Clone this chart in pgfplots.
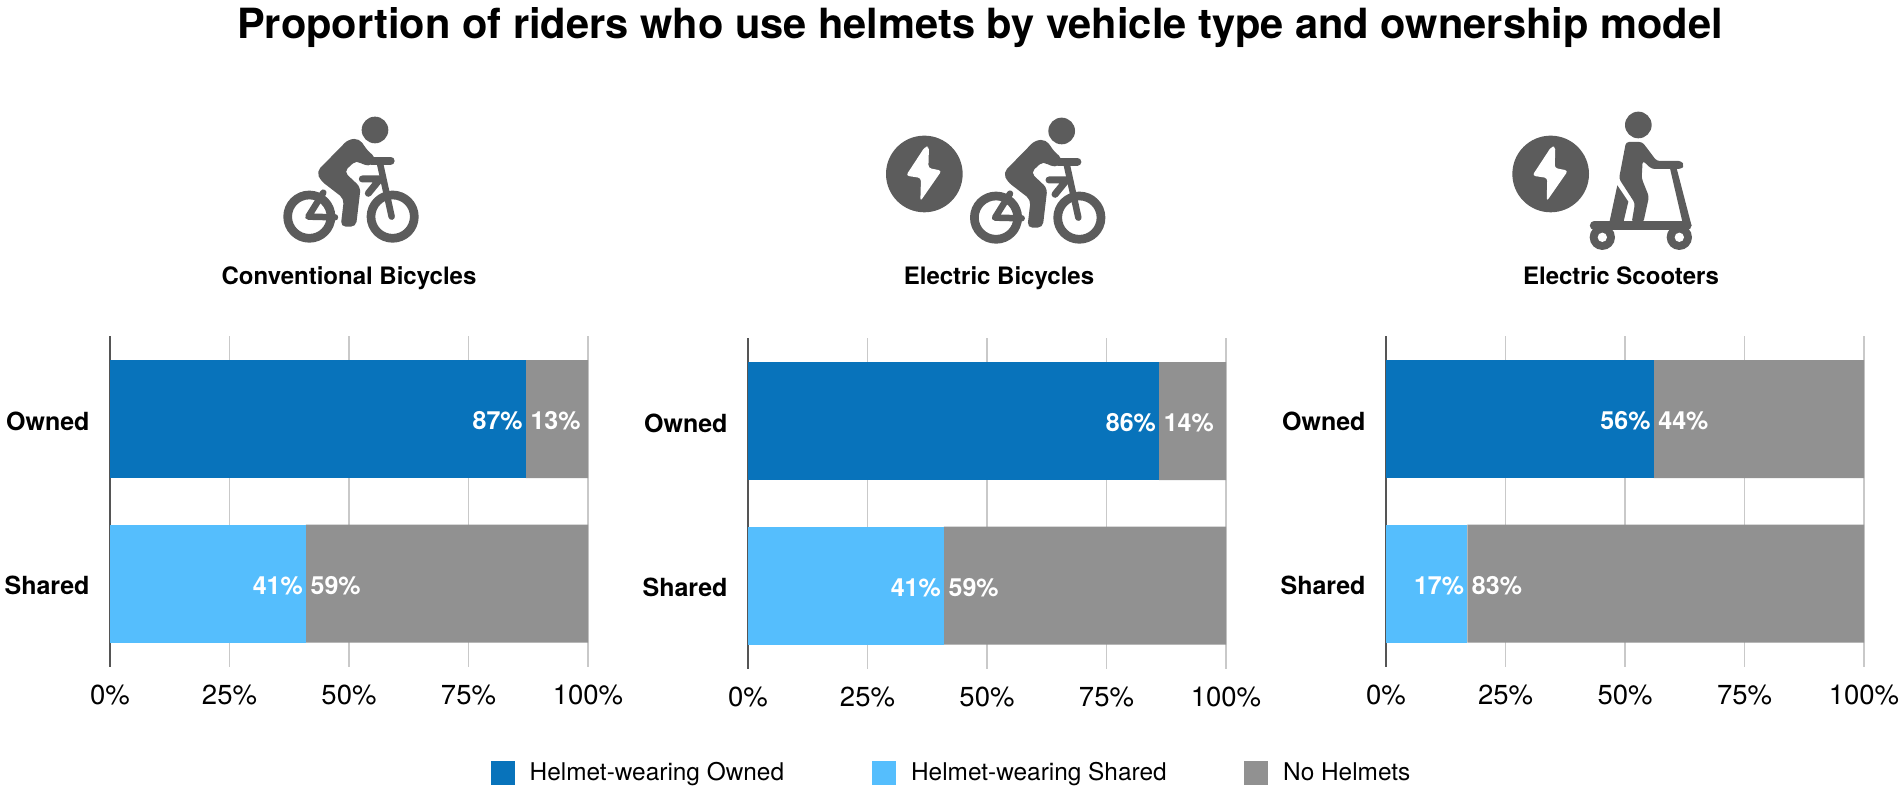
\documentclass[border=0pt]{standalone}
\usepackage{fontspec}
\setmainfont{TeX Gyre Heros}
\usepackage{pgfplots}
\pgfplotsset{compat=1.18}
\definecolor{owned}{HTML}{0873BB}
\definecolor{shared}{HTML}{55BEFD}
\definecolor{nohelmet}{HTML}{919191}
\definecolor{icon}{HTML}{5C5C5C}
\definecolor{gridc}{HTML}{C9C9C9}
\definecolor{axisc}{HTML}{555555}

\newcommand{\sz}[1]{\fontsize{#1}{#1}\selectfont}

\pgfplotsset{
  panel/.style={
    scale only axis, width=478pt, height=331pt, anchor=south west,
    xbar stacked, bar width=118pt,
    xmin=0, xmax=100, ymin=-0.507, ymax=1.505,
    xtick={0,25,50,75,100},
    xticklabels={0\%,25\%,50\%,75\%,100\%},
    ytick={0,1}, yticklabels={Shared,Owned},
    xmajorgrids, major grid style={gridc, line width=1.6pt},
    axis x line*=bottom, axis y line*=left,
    x axis line style={draw=none, -}, y axis line style={axisc, line width=2pt, -},
    major tick length=0pt,
    xticklabel style={font=\sz{27.5}, yshift=-14pt},
    yticklabel style={font=\bfseries\sz{25}, xshift=-17pt, yshift=-2pt},
    /pgf/number format/assume math mode=true,
    visualization depends on={\thisrow{v} \as \seg},
    nodes near coords={\pgfmathfloatifflags{\pgfplotspointmeta}{0}{}{\pgfmathprintnumber{\pgfplotspointmeta}\%}},
    every node near coord/.append style={font=\bfseries\sz{25}, text=white, inner sep=3pt, yshift=-2pt},
    legend image code/.code={\fill[##1] (0pt,-12pt) rectangle (24pt,12pt);},
    legend cell align=left,
    legend style={draw=none, font=\sz{24.4}, legend columns=3, anchor=north west,
      /tikz/every odd column/.append style={column sep=13pt},
      /tikz/column 2/.style={column sep=86pt},
      /tikz/column 4/.style={column sep=75.5pt}},
  },
  % labels hug the boundary between the coloured and the grey part
  before edge/.style={every node near coord/.append style={anchor=east, xshift=\seg*2.39pt}},
  after edge/.style={every node near coord/.append style={anchor=west, xshift=-\seg*2.39pt+1.5pt}},
  blue bar/.style={fill=owned, draw=none, before edge},
  light bar/.style={fill=shared, draw=none, before edge},
  grey bar/.style={fill=nohelmet, draw=none, after edge},
}

% rider on a bicycle, coordinates in zoom units (1/3 px)
\newcommand{\bikeicon}[2]{%
\begin{scope}[shift={(#1pt,#2pt)}, x=0.3333pt, y=-0.3333pt, icon, line cap=round, line join=round]
  \fill (525,90) circle (40);
  \draw[line width=8.7pt] (328,350) circle (65);
  \draw[line width=8.7pt] (578,350) circle (65);
  \fill[rounded corners=5pt] (445,118) -- (478,116) -- (505,155) -- (528,172) -- (520,196) -- (490,196) -- (470,180) -- (432,215) -- (482,262) -- (468,380) -- (422,380) -- (432,296) -- (362,242) -- (350,215) -- cycle;
  \draw[line width=8pt] (515,182) -- (572,182);
  \draw[line width=6.5pt] (540,190) -- (575,350);
  \draw[line width=7pt] (487,237) -- (540,237) -- (505,280);
  \draw[line width=6.5pt] (370,278) -- (325,350) -- (405,352);
\end{scope}}
\newcommand{\bolticon}[4]{%
\begin{scope}[shift={(#1pt,#2pt)}, x=0.3333pt, y=-0.3333pt]
  \fill[icon] (#3,#4) circle (115);
  \begin{scope}[shift={(#3,#4)}]
  \fill[white, rounded corners=3pt] (2,-82) -- (-55,5) -- (-10,12) -- (-12,82) -- (52,-10) -- (12,-18) -- (14,-82) -- cycle;
  \end{scope}
\end{scope}}
\newcommand{\scootericon}[2]{%
\begin{scope}[shift={(#1pt,#2pt)}, x=0.3333pt, y=-0.3333pt, icon]
  \fill (475,75) circle (40);
  \fill[rounded corners=3pt] (438,126) -- (487,126) -- (530,183) -- (605,183) -- (612,196) -- (605,207) -- (515,207) -- (488,182) -- (485,235) -- (507,290) -- (490,368) -- (455,368) -- (465,310) -- (417,236) -- cycle;
  \fill (412,256) -- (445,305) -- (430,368) -- (388,368) -- cycle;
  \fill (570,205) -- (590,205) -- (635,378) -- (610,378) -- cycle;
  \draw[line width=8.3pt, line cap=round] (342,377) -- (622,377);
  \fill (367,412) circle (38); \fill[white] (367,412) circle (14);
  \fill (598,412) circle (38); \fill[white] (598,412) circle (14);
\end{scope}}

\begin{document}
\begin{tikzpicture}[x=1pt, y=1pt]
\path[use as bounding box] (0,0) rectangle (1902,791);

\node[font=\bfseries\sz{41.6}] at (980,763) {Proportion of riders who use helmets by vehicle type and ownership model};

\bikeicon{200}{691}
\bolticon{850}{691}{223}{222}
\bikeicon{886.7}{690}
\bolticon{1480}{691}{212}{222}
\scootericon{1480}{691}

\node[font=\bfseries\sz{24}, anchor=base] at (349,506) {Conventional Bicycles};
\node[font=\bfseries\sz{24}, anchor=base] at (999,506) {Electric Bicycles};
\node[font=\bfseries\sz{24}, anchor=base] at (1621,506) {Electric Scooters};

% conventional bicycles
\begin{axis}[panel, at={(110pt,124pt)}]
\addplot[blue bar] table[x=v, y=c] {
c v
0 0
1 87
};
\addplot[light bar] table[x=v, y=c] {
c v
0 41
1 0
};
\addplot[grey bar] table[x=v, y=c] {
c v
0 59
1 13
};
\end{axis}

% electric bicycles
\begin{axis}[panel, at={(748pt,122pt)},
  legend style={at={(-0.545,-0.27)}}]
\addplot[blue bar] table[x=v, y=c] {
c v
0 0
1 86
};
\addplot[light bar] table[x=v, y=c] {
c v
0 41
1 0
};
\addplot[grey bar] table[x=v, y=c] {
c v
0 59
1 14
};
\legend{Helmet-wearing Owned, Helmet-wearing Shared, No Helmets}
\end{axis}

% electric scooters
\begin{axis}[panel, at={(1386pt,124pt)}]
\addplot[blue bar] table[x=v, y=c] {
c v
0 0
1 56
};
\addplot[light bar] table[x=v, y=c] {
c v
0 17
1 0
};
\addplot[grey bar] table[x=v, y=c] {
c v
0 83
1 44
};
\end{axis}

\end{tikzpicture}
\end{document}
